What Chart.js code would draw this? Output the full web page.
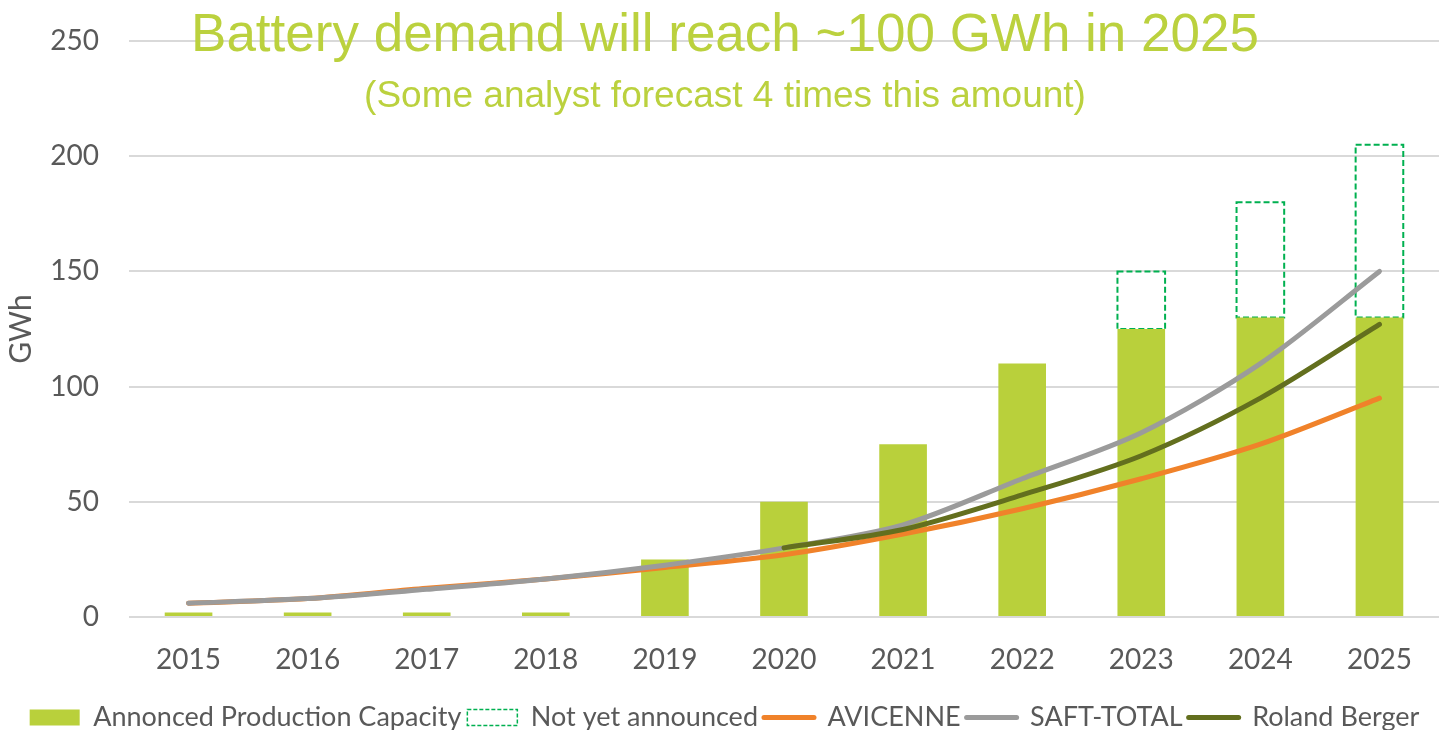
<!DOCTYPE html>
<html>
<head>
<meta charset="utf-8">
<title>Battery demand</title>
<script src="https://cdn.jsdelivr.net/npm/chart.js@4.4.1/dist/chart.umd.min.js"></script>
<style>
  html, body { margin: 0; padding: 0; background: #fff; }
  #wrap { width: 1439px; height: 730px; }
</style>
</head>
<body>
<div id="wrap"><canvas id="myChart" width="1439" height="730"></canvas></div>
<script>
var years = ['2015', '2016', '2017', '2018', '2019', '2020', '2021', '2022', '2023', '2024', '2025'];

// GWh
var announced    = [2, 2, 2, 2, 25, 50, 75, 110, 125, 130, 130];
var notAnnounced = [null, null, null, null, null, null, null, null, 25, 50, 75];
var avicenne     = [6, 8, 12.5, 16.5, 21.5, 27, 36, 47, 60, 75, 95];
var saftTotal    = [6, 8, 12, 16.5, 22.5, 30, 40, 60, 80, 110, 150];
var rolandBerger = [null, null, null, null, null, 30, 38, 53, 70, 95, 127];

var yMin = 0, yMax = 250, yStep = 50;

var titleText = 'Battery demand will reach ~100 GWh in 2025';
var subtitleText = '(Some analyst forecast 4 times this amount)';

var seriesNames = ['Annonced Production Capacity', 'Not yet announced', 'AVICENNE', 'SAFT-TOTAL', 'Roland Berger'];

var barGreen = '#b9d03b';
var dashGreen = '#00b050';
var orange = '#f0822a';
var grey = '#9b9b9b';
var olive = '#636f1e';
var textGrey = '#595959';

// bar elements can't dash their border, so the outline is stroked here
var dashedBars = {
  id: 'dashedBars',
  afterDatasetDraw: function(chart, args) {
    if (args.index !== 1) return;
    var ctx = chart.ctx;
    ctx.save();
    ctx.strokeStyle = dashGreen;
    ctx.lineWidth = 2;
    ctx.setLineDash([6, 3]);
    args.meta.data.forEach(function(bar, i) {
      if (notAnnounced[i] == null) return;
      var p = bar.getProps(['x', 'y', 'base', 'width'], true);
      ctx.strokeRect(p.x - p.width / 2, p.y, p.width, p.base - p.y);
    });
    ctx.restore();
  }
};

// big headline sits on top of the plot
var headline = {
  id: 'headline',
  afterDraw: function(chart) {
    var ctx = chart.ctx;
    ctx.save();
    ctx.fillStyle = '#bbd13e';
    ctx.textAlign = 'center';
    ctx.textBaseline = 'alphabetic';
    ctx.font = '53px "Liberation Sans", Arial, sans-serif';
    ctx.fillText(titleText, 725, 51);
    ctx.font = '37px "Liberation Sans", Arial, sans-serif';
    ctx.fillText(subtitleText, 725, 107);
    ctx.restore();
  }
};

var legendLook = [
  { pointStyle: 'rect', fillStyle: barGreen, strokeStyle: barGreen, lineWidth: 0 },
  { pointStyle: 'rect', fillStyle: '#ffffff', strokeStyle: dashGreen, lineWidth: 1.5, lineDash: [4, 2] },
  { pointStyle: 'line', fillStyle: orange, strokeStyle: orange, lineWidth: 5, lineCap: 'round' },
  { pointStyle: 'line', fillStyle: grey, strokeStyle: grey, lineWidth: 5, lineCap: 'round' },
  { pointStyle: 'line', fillStyle: olive, strokeStyle: olive, lineWidth: 5, lineCap: 'round' }
];

function lineSet(i, values, color, order) {
  return {
    type: 'line',
    label: seriesNames[i],
    data: values,
    borderColor: color,
    backgroundColor: color,
    borderWidth: 5,
    borderCapStyle: 'round',
    borderJoinStyle: 'round',
    pointRadius: 0,
    tension: 0.3,
    spanGaps: false,
    stack: 'line' + i,
    order: order
  };
}

var ctx = document.getElementById('myChart');
var myChart = new Chart(ctx, {
  type: 'bar',
  data: {
    labels: years,
    datasets: [
      {
        label: seriesNames[0],
        data: announced,
        backgroundColor: barGreen,
        borderWidth: 0,
        barPercentage: 0.4,
        categoryPercentage: 1,
        stack: 'capacity',
        order: 4
      },
      {
        label: seriesNames[1],
        data: notAnnounced,
        backgroundColor: 'rgba(255,255,255,0)',
        borderWidth: 0,
        barPercentage: 0.4,
        categoryPercentage: 1,
        stack: 'capacity',
        order: 5
      },
      lineSet(2, avicenne, orange, 3),
      lineSet(3, saftTotal, grey, 2),
      lineSet(4, rolandBerger, olive, 1)
    ]
  },
  options: {
    responsive: false,
    animation: false,
    layout: { padding: { top: 41, left: 3, right: -7, bottom: -11 } },
    scales: {
      x: {
        grid: { display: false },
        border: { display: false },
        ticks: { color: textGrey, font: { family: 'Lato', size: 28 }, padding: 18 },
        afterFit: function(scale) {
          scale.height = 81;
          scale.paddingRight = -7;
        }
      },
      y: {
        stacked: true,
        min: yMin,
        max: yMax,
        grid: { color: '#d9d9d9', lineWidth: 2, drawTicks: false },
        border: { display: false },
        ticks: { stepSize: yStep, color: textGrey, font: { family: 'Lato', size: 28 }, padding: 30 },
        title: {
          display: true,
          text: 'GWh',
          color: textGrey,
          font: { family: 'Lato', size: 30 },
          padding: { top: 0, bottom: 6 }
        },
        afterFit: function(scale) {
          scale.width = 126;
          scale.paddingTop = 0;
          scale.paddingBottom = 0;
          scale.paddingRight = -7;
        }
      }
    },
    plugins: {
      tooltip: { enabled: false },
      legend: {
        position: 'bottom',
        labels: {
          usePointStyle: true,
          pointStyleWidth: 50,
          boxHeight: 16,
          padding: 6,
          color: textGrey,
          font: { family: 'Lato', size: 27 },
          sort: function(a, b) { return a.datasetIndex - b.datasetIndex; },
          generateLabels: function(chart) {
            var items = Chart.defaults.plugins.legend.labels.generateLabels(chart);
            items.forEach(function(item) {
              Object.assign(item, legendLook[item.datasetIndex]);
            });
            return items;
          }
        }
      }
    }
  },
  plugins: [dashedBars, headline]
});
</script>
</body>
</html>
